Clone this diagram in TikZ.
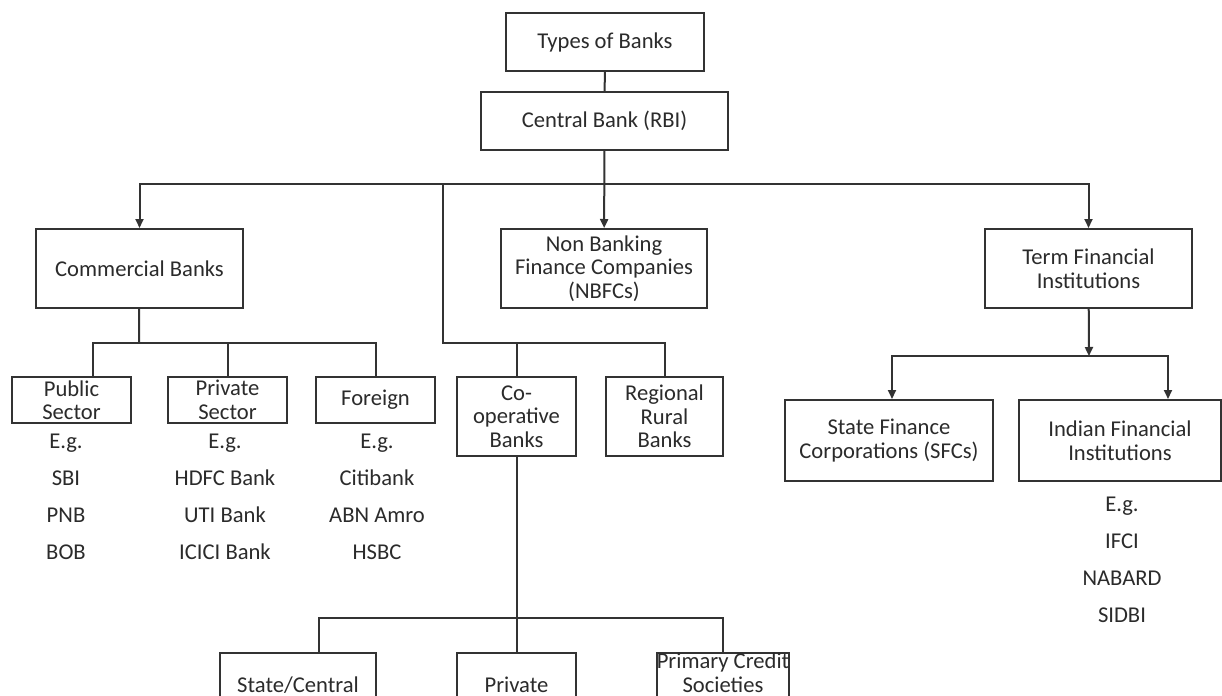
\documentclass[tikz,border=0pt]{standalone}
\usepackage{fontspec}
\setmainfont{Carlito}
\usetikzlibrary{arrows.meta}
\definecolor{linegray}{HTML}{333333}
\definecolor{inkgray}{HTML}{2B2B2B}
\tikzset{
  bankbox/.style={draw=linegray, line width=1pt, align=center, inner sep=0pt,
    text=inkgray, font=\fontsize{11.3}{11.75}\selectfont},
  eglist/.style={align=center, inner sep=0pt, text=inkgray,
    font=\fontsize{11.3}{18.5}\selectfont},
  wire/.style={draw=linegray, line width=1pt},
  arrowwire/.style={wire, -{Triangle[length=4.5pt,width=4pt]}}
}
\begin{document}
\begin{tikzpicture}[x=0.5pt,y=-0.5pt]
        % Page frame (pixel units, y downwards)
        \clip (0,0) rectangle (1222,696);
        \fill[white] (0,0) rectangle (1222,696);

        % Top of the chart
        \node[bankbox, minimum width=99pt, minimum height=29pt] (types) at (605,42) {Types of Banks};
        \node[bankbox, minimum width=123.5pt, minimum height=29pt] (central) at (604.5,121) {Central Bank (RBI)};

        % Second row
        \node[bankbox, minimum width=103.5pt, minimum height=39.5pt] (commercial) at (139.5,268.5) {Commercial Banks};
        \node[bankbox, minimum width=103pt, minimum height=39.5pt] (nbfc) at (604,268.5) {Non Banking\\Finance Companies\\(NBFCs)};
        \node[bankbox, minimum width=103.5pt, minimum height=39.5pt] (term) at (1088.5,268.5) {Term Financial\\Institutions};

        % Commercial banks and their examples
        \node[bankbox, minimum width=59.5pt, minimum height=23pt] (public) at (71.5,400) {Public\\Sector};
        \node[bankbox, minimum width=59.5pt, minimum height=23pt] (private) at (227.5,400) {Private\\Sector};
        \node[bankbox, minimum width=59.5pt, minimum height=23pt] (foreign) at (375.5,400) {Foreign};
        \node[eglist] (publiceg) at (66,497) {E.g.\\SBI\\PNB\\BOB};
        \node[eglist] (privateeg) at (225,497) {E.g.\\HDFC Bank\\UTI Bank\\ICICI Bank};
        \node[eglist] (foreigneg) at (377,497) {E.g.\\Citibank\\ABN Amro\\HSBC};

        % Co-operative and rural banks
        \node[bankbox, minimum width=59.5pt, minimum height=39.5pt] (coop) at (516.5,416.5) {Co-\\operative\\Banks};
        \node[bankbox, minimum width=58.5pt, minimum height=39.5pt] (rural) at (664.5,416.5) {Regional\\Rural\\Banks};

        % Term financial institutions
        \node[bankbox, minimum width=104pt, minimum height=40.5pt] (sfc) at (889,440.5) {State Finance\\Corporations (SFCs)};
        \node[bankbox, minimum width=101pt, minimum height=40.5pt] (ifi) at (1120,440.5) {Indian Financial\\Institutions};
        \node[eglist] (ifieg) at (1122,560) {E.g.\\IFCI\\NABARD\\SIDBI};

        % Bottom row, cut by the page edge
        \node[bankbox, anchor=north, minimum width=78pt, minimum height=32pt] (statecentral) at (298,652) {State/Central};
        \node[bankbox, anchor=north, minimum width=59.5pt, minimum height=32pt] (privatecoop) at (516.5,652) {Private};
        \node[bankbox, anchor=north, minimum width=60pt, text depth=20pt] (primary) at (723,652) {Primary Credit\\Societies};

        % Bus coordinates
        \coordinate (topbus) at (605,184);
        \coordinate (leftdrop) at (443,184);
        \coordinate (midbus) at (443,343);
        \coordinate (combus) at (139,343);
        \coordinate (termbus) at (1089,356);
        \coordinate (coopbus) at (517,618);

        % Connectors
        \draw[wire] (types) -- (central);
        \draw[arrowwire] (central) -- (nbfc);
        \draw[arrowwire] (topbus) -| (commercial.north);
        \draw[arrowwire] (topbus) -| (term.north);
        \draw[wire] (leftdrop) -- (midbus) -| (rural.north);
        \draw[wire] (midbus -| coop.north) -- (coop.north);

        \draw[wire] (commercial) -- (combus);
        \draw[wire] ([xshift=10.75pt]public.north) |- (foreign.north |- combus) -- (foreign.north);
        \draw[wire] (private.north) -- (private.north |- combus);

        \draw[arrowwire] (term) -- (termbus);
        \draw[arrowwire] (termbus) -| ([xshift=1.5pt]sfc.north);
        \draw[arrowwire] (termbus) -| ([xshift=24pt]ifi.north);

        \draw[wire] (coop) -- (privatecoop);
        \draw[wire] ([xshift=10.5pt]statecentral.north) |- (coopbus) -| (primary.north);
    \end{tikzpicture}
\end{document}
